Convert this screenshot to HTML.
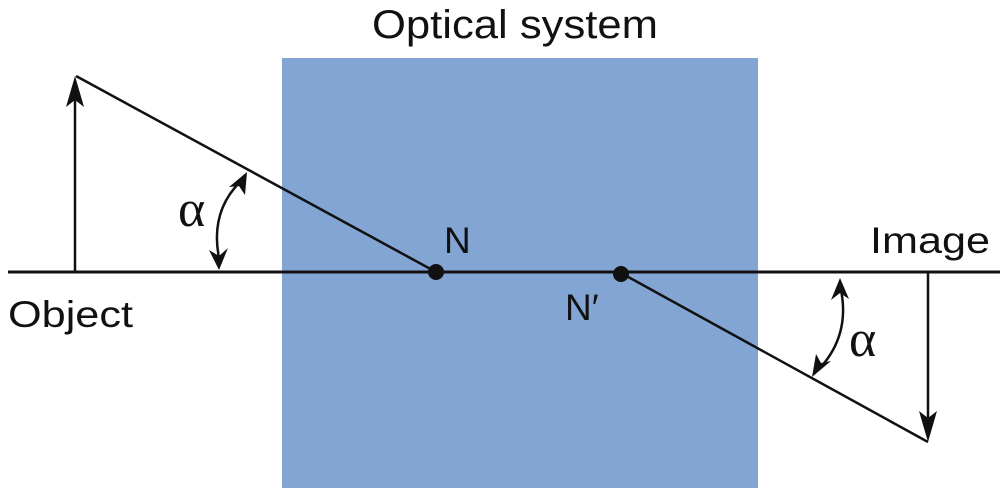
<!DOCTYPE html>
<html><head><meta charset="utf-8"><style>
html,body{margin:0;padding:0;background:#fff;}
svg{display:block}
</style></head><body>
<svg width="1000" height="497" viewBox="0 0 1000 497" xmlns="http://www.w3.org/2000/svg">
<rect x="282" y="58" width="476" height="430" fill="#82a5d4"/>
<line x1="8" y1="272" x2="1000" y2="272" stroke="#111" stroke-width="3"/>
<line x1="75" y1="272" x2="75" y2="90" stroke="#111" stroke-width="2.5"/>
<path d="M75,76 L84,107 L75,100 L66,107 Z" fill="#111"/>
<line x1="76" y1="76" x2="436" y2="272" stroke="#111" stroke-width="2.5"/>
<line x1="621" y1="273" x2="928" y2="442" stroke="#111" stroke-width="2.5"/>
<line x1="928" y1="272" x2="928" y2="425" stroke="#111" stroke-width="2.5"/>
<path d="M928,442 L919,411 L928,418 L937,411 Z" fill="#111"/>
<circle cx="436" cy="272" r="8" fill="#111"/>
<circle cx="621" cy="274" r="8" fill="#111"/>
<path d="M240,182 Q210,212 219,258" fill="none" stroke="#111" stroke-width="2.5"/>
<path d="M247,172 L245,195 L239,186 L229,187 Z" fill="#111"/>
<path d="M219,270 L209,250 L219,256 L228,248 Z" fill="#111"/>
<path d="M841,290 Q850,335 820,368" fill="none" stroke="#111" stroke-width="2.5"/>
<path d="M840,278 L849,299 L840,293 L831,300 Z" fill="#111"/>
<path d="M812,377 L816,354 L821,363 L831,361 Z" fill="#111"/>
<g font-family="Liberation Sans, sans-serif" fill="#111">
<text x="515" y="38" font-size="40" text-anchor="middle" textLength="286" lengthAdjust="spacingAndGlyphs">Optical system</text>
<text x="8" y="327" font-size="37" textLength="125" lengthAdjust="spacingAndGlyphs">Object</text>
<text x="990" y="253" font-size="37" text-anchor="end" textLength="120" lengthAdjust="spacingAndGlyphs">Image</text>
<text x="444" y="253" font-size="37">N</text>
<text x="565" y="320" font-size="37">N′</text>
</g>
<g font-family="Liberation Serif, serif" fill="#111" font-size="52">
<text x="178" y="226">α</text>
<text x="849" y="356">α</text>
</g>
</svg>
</body></html>
